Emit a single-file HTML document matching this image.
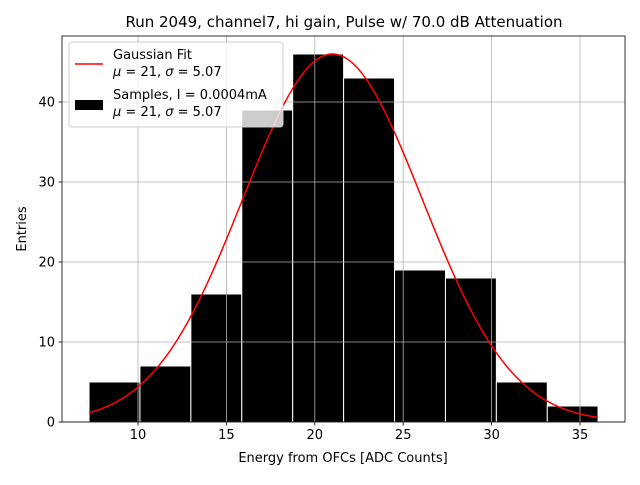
<!DOCTYPE html>
<html><head><meta charset="utf-8"><style>
body{margin:0;background:#fff;font-family:"Liberation Sans","DejaVu Sans",sans-serif}
svg text{font-family:"DejaVu Sans","Liberation Sans",sans-serif}
</style></head><body>
<svg id="c" width="640" height="480" xmlns="http://www.w3.org/2000/svg">
<rect width="640" height="480" fill="#fff"/>
<g id="bars"></g><g id="grid"></g><g id="curve"></g><g id="axes"></g>
</svg>
<script>
const binEdges=[7.23,10.11,12.99,15.87,18.75,21.63,24.51,27.39,30.27,33.15,36.02];
const counts=[5,7,16,39,46,43,19,18,5,2];
const fitMu=21, fitSigma=5.07, fitPeak=46;
const xTicks=[10,15,20,25,30,35];
const yTicks=[0,10,20,30,40];
const L=62,R=625,T=36,B=422;
const xs=v=>138+(v-10)*17.68;
const ys=v=>422-v*8;
const NS='http://www.w3.org/2000/svg';
function mk(t,a,p){const e=document.createElementNS(NS,t);for(const k in a)e.setAttribute(k,a[k]);p.appendChild(e);return e;}
const grid=document.getElementById('grid'),bars=document.getElementById('bars'),cur=document.getElementById('curve'),ax=document.getElementById('axes');
xTicks.forEach(t=>{const x=xs(t);
 const g=mk('line',{x1:x,x2:x,y1:T,y2:B,stroke:'#b0b0b0','stroke-width':0.8},grid);
 
 mk('line',{x1:x,x2:x,y1:B,y2:B+3.5,stroke:'#000','stroke-width':0.8},ax);
 const l=mk('text',{x:x,y:B+17,'font-size':13,'text-anchor':'middle'},ax);l.textContent=t;
 });
yTicks.forEach(t=>{const y=ys(t);
 const g=mk('line',{x1:L,x2:R,y1:y,y2:y,stroke:'#b0b0b0','stroke-width':0.8},grid);
 
 mk('line',{x1:L-3.5,x2:L,y1:y,y2:y,stroke:'#000','stroke-width':0.8},ax);
 const l=mk('text',{x:L-7,y:y+4.5,'font-size':13,'text-anchor':'end'},ax);l.textContent=t;
 });
counts.forEach((c,i)=>{const x0=xs(binEdges[i]),x1=xs(binEdges[i+1]);
 const r=mk('rect',{x:x0,y:ys(c),width:x1-x0,height:ys(0)-ys(c),fill:'#000',stroke:'#fff','stroke-width':1},bars);
 });
let d='';const a=binEdges[0],b=binEdges[binEdges.length-1];
for(let i=0;i<=200;i++){const v=a+(b-a)*i/200;const y=fitPeak*Math.exp(-0.5*((v-fitMu)/fitSigma)**2);d+=(i?'L':'M')+xs(v).toFixed(2)+','+ys(y).toFixed(2);}
const p=mk('path',{d:d,fill:'none',stroke:'#f00','stroke-width':1.5},cur);

const fr=mk('rect',{x:L,y:T,width:R-L,height:B-T,fill:'none',stroke:'#000','stroke-width':0.8},ax);

</script>
<svg style="position:absolute;left:0;top:0" width="640" height="480" xmlns="http://www.w3.org/2000/svg">
<text x="344" y="27" font-size="15" text-anchor="middle">Run 2049, channel7, hi gain, Pulse w/ 70.0 dB Attenuation</text>
<text x="343" y="462" font-size="13" text-anchor="middle">Energy from OFCs [ADC Counts]</text>
<text x="26" y="229" font-size="13" text-anchor="middle" transform="rotate(-90 26 229)">Entries</text>
<g>
<rect x="69" y="42" width="214" height="85" rx="3" fill="#fff" fill-opacity="0.8" stroke="#ccc"/>
<line x1="75" x2="103" y1="64" y2="64" stroke="#f00" stroke-width="1.5"/>
<text x="113" y="59" font-size="13">Gaussian Fit</text>
<text x="113" y="76" font-size="13"><tspan font-style="italic">μ</tspan> = 21, <tspan font-style="italic">σ</tspan> = 5.07</text>
<rect x="75" y="100" width="28" height="10" fill="#000"/>
<text x="113" y="99" font-size="13">Samples, I = 0.0004mA</text>
<text x="113" y="116" font-size="13"><tspan font-style="italic">μ</tspan> = 21, <tspan font-style="italic">σ</tspan> = 5.07</text>
</g>
</svg>
</body></html>
